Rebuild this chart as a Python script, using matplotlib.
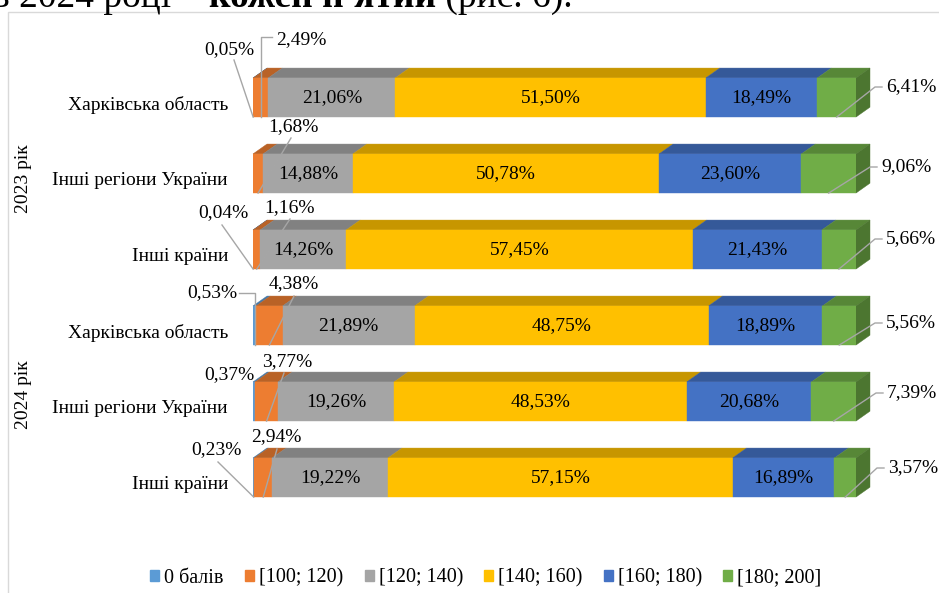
import matplotlib.pyplot as plt
import numpy as np
from matplotlib.patches import Polygon, Rectangle, Patch
from matplotlib.colors import to_rgb

# --- data (share of applicants by NMT score band, %) ---
categories = ['Харківська область', 'Інші регіони України', 'Інші країни',
              'Харківська область', 'Інші регіони України', 'Інші країни']
years = ['2023 рік', '2024 рік']
bins = ['0 балів', '[100; 120)', '[120; 140)', '[140; 160)', '[160; 180)', '[180; 200]']
zero = [0.05, 0.00, 0.04, 0.53, 0.37, 0.23]
b100 = [2.49, 1.68, 1.16, 4.38, 3.77, 2.94]
b120 = [21.06, 14.88, 14.26, 21.89, 19.26, 19.22]
b140 = [51.50, 50.78, 57.45, 48.75, 48.53, 57.15]
b160 = [18.49, 23.60, 21.43, 18.89, 20.68, 16.89]
b180 = [6.41, 9.06, 5.66, 5.56, 7.39, 3.57]

colors = ['#5B9BD5', '#ED7D31', '#A5A5A5', '#FFC000', '#4472C4', '#70AD47']

# outside labels: (row, band, text x px, text y px, ha, leader start px, bend)
outer_layout = [
    (0, 0, 229, 50, 'center', (234, 60), None),
    (0, 1, 276, 40, 'left', (272, 37), 'v'),
    (0, 5, 886, 87, 'left', (882, 87), 875),
    (1, 1, 293, 127, 'center', (291, 138), None),
    (1, 5, 881, 167, 'left', (877, 167), 870),
    (2, 0, 223, 213, 'center', (222, 225), None),
    (2, 1, 289, 208, 'center', (290, 219), None),
    (2, 5, 886, 239, 'left', (882, 239), 875),
    (3, 0, 212, 293, 'center', (239, 293), 'v'),
    (3, 1, 294, 284, 'center', (294, 296), None),
    (3, 5, 886, 323, 'left', (882, 323), 875),
    (4, 0, 229, 375, 'center', None, None),
    (4, 1, 287, 362, 'center', (284, 373), None),
    (4, 5, 887, 393, 'left', (883, 393), 876),
    (5, 0, 216, 450, 'center', (218, 462), None),
    (5, 1, 276, 437, 'center', (277, 449), None),
    (5, 5, 888, 468, 'left', (884, 468), 877),
]

plt.rcParams['font.family'] = ['Liberation Serif', 'DejaVu Serif']
plt.rcParams['font.size'] = 14

W, H = 939, 593
fig = plt.figure(figsize=(W / 100, H / 100), dpi=100)
ax = fig.add_axes([253 / W, 53 / H, 603 / W, 500 / H])

vals = np.array([zero, b100, b120, b140, b160, b180]).T
left = np.cumsum(vals, axis=1) - vals
rows = np.arange(len(categories))
bar_h = 0.515
dx, dy = 2.32, 0.13


def darker(c, f):
    return tuple(np.array(to_rgb(c)) * f)


def fmt(v):
    return f'{v:.2f}'.replace('.', ',') + '%'


for j in range(len(bins)):
    ax.barh(rows, vals[:, j], left=left[:, j], height=bar_h, color=colors[j],
            edgecolor=colors[j], linewidth=0.3, zorder=3)
    for i in rows:
        if vals[i, j] <= 0:
            continue
        x0, x1 = left[i, j], left[i, j] + vals[i, j]
        yt = i - bar_h / 2
        top = darker(colors[j], 0.78)
        ax.add_patch(Polygon([(x0, yt), (x1, yt), (x1 + dx, yt - dy), (x0 + dx, yt - dy)],
                             closed=True, facecolor=top, edgecolor=top, lw=0.3,
                             zorder=2, clip_on=False))

# right side face
side = darker(colors[-1], 0.68)
for i in rows:
    x1 = left[i, -1] + vals[i, -1]
    yt, yb = i - bar_h / 2, i + bar_h / 2
    ax.add_patch(Polygon([(x1, yt), (x1, yb), (x1 + dx, yb - dy), (x1 + dx, yt - dy)],
                         closed=True, facecolor=side, edgecolor=side, lw=0.3,
                         zorder=2, clip_on=False))

ax.set_xlim(0, 100)
ax.set_ylim((540 - 97.5) / 76, (40 - 97.5) / 76)
ax.set_xticks([])
ax.set_yticks(rows + 0.07, labels=categories)
ax.tick_params(axis='y', length=0, pad=18)
for s in ax.spines.values():
    s.set_visible(False)
ax.patch.set_alpha(0)

# inner labels
for i in rows:
    for j in (2, 3, 4):
        ax.text(left[i, j] + vals[i, j] / 2, i, fmt(vals[i, j]),
                ha='center', va='center', zorder=5)


def d(x, y):
    return ax.transData.inverted().transform((x, H - y))


for i, j, tx, ty, ha, start, bend in outer_layout:
    ax.text(*d(tx, ty), fmt(vals[i, j]), ha=ha, va='center', zorder=5, clip_on=False)
    if start is None:
        continue
    anchor = (left[i, j] + vals[i, j] / 2, i + bar_h / 2)
    pts = [d(*start)]
    if bend == 'v':
        pts.append((anchor[0], pts[0][1]))
    elif bend is not None:
        pts.append(d(bend, start[1]))
    pts.append(anchor)
    pts = np.array(pts)
    ax.plot(pts[:, 0], pts[:, 1], color='#A6A6A6', lw=1, zorder=4, clip_on=False)

# year labels
fig.text(23 / W, 1 - 179 / H, years[0], rotation=90, ha='center', va='center')
fig.text(23 / W, 1 - 395 / H, years[1], rotation=90, ha='center', va='center')

# legend
handles = [Patch(color=c) for c in colors]
fig.legend(handles, bins, loc='center', bbox_to_anchor=(486 / W, 1 - 578 / H), ncol=6,
           frameon=False, handlelength=0.45, handleheight=0.45, handletextpad=0.25,
           columnspacing=1.05, borderaxespad=0, fontsize=14.5)

# chart frame
fig.add_artist(Rectangle((8 / W, -0.1), 1.5, 1.1 - 12 / H, transform=fig.transFigure,
                         fill=False, edgecolor='#D9D9D9', lw=1))

# clipped heading from the document above the chart
r = fig.canvas.get_renderer()
x = -8
for s, w in [('в 2024 році – ', 'normal'), ('кожен п\'ятий', 'bold'), (' (рис. 6).', 'normal')]:
    t = fig.text(x / W, 1 - 7 / H, s, fontsize=27, fontweight=w, va='baseline')
    x += t.get_window_extent(r).width

fig.savefig('out.png', dpi=100)
